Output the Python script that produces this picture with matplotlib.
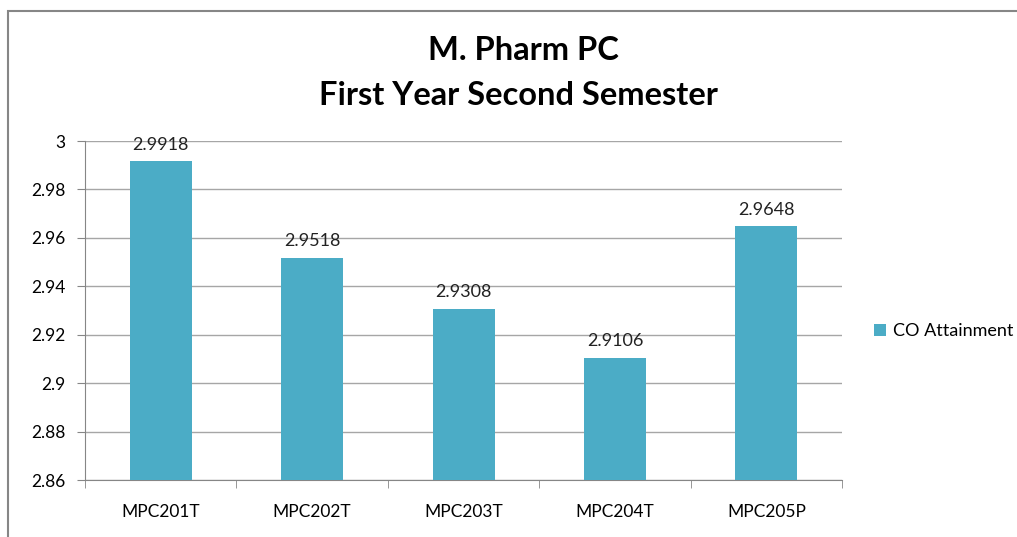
"""
Bar chart: M. Pharm PC, first year second semester CO attainment.
"""

import matplotlib.pyplot as plt
from matplotlib.patches import Rectangle

# ---------------------------------------------------------
# Data
# ---------------------------------------------------------
courses = ["MPC201T", "MPC202T", "MPC203T", "MPC204T", "MPC205P"]
co_attainment = [2.9918, 2.9518, 2.9308, 2.9106, 2.9648]
y_ticks = [2.86, 2.88, 2.90, 2.92, 2.94, 2.96, 2.98, 3.00]
y_tick_labels = ["2.86", "2.88", "2.9", "2.92", "2.94", "2.96", "2.98", "3"]

BAR_COLOR = "#4BACC6"
GRID_COLOR = "#A6A6A6"

plt.rcParams["font.family"] = ["Lato", "DejaVu Sans"]

fig = plt.figure(figsize=(10.17, 5.37), dpi=100)
ax = fig.add_axes([0.0836, 0.106, 0.7444, 0.6314])

x = list(range(len(courses)))
bars = ax.bar(x, co_attainment, width=0.41, color=BAR_COLOR, zorder=3,
              label="CO Attainment")

for xi, v in zip(x, co_attainment):
    ax.annotate(f"{v:.4f}", (xi, v), xytext=(0, 6), textcoords="offset points",
                ha="center", va="bottom", fontsize=13, color="#222222")

ax.set_xlim(-0.5, len(courses) - 0.5)
ax.set_ylim(2.86, 3.0)
ax.set_yticks(y_ticks)
ax.set_yticklabels(y_tick_labels, fontsize=12.5)
ax.set_xticks(x)
ax.set_xticklabels(courses, fontsize=12.5)
ax.set_xticks([i - 0.5 for i in range(len(courses) + 1)], minor=True)
ax.tick_params(axis="x", which="major", length=0, pad=17)
ax.tick_params(axis="x", which="minor", length=6, color="#868686")
ax.tick_params(axis="y", length=6, color="#868686", pad=8)

ax.yaxis.grid(True, color=GRID_COLOR, linewidth=1)
ax.set_axisbelow(True)
for side in ["top", "right"]:
    ax.spines[side].set_visible(False)
ax.spines["left"].set_color("#868686")
ax.spines["bottom"].set_color("#868686")

fig.text(0.515, 0.906, "M. Pharm PC", ha="center", va="center",
         fontsize=23.5, fontweight="bold")
fig.text(0.51, 0.822, "First Year Second Semester", ha="center", va="center",
         fontsize=23.5, fontweight="bold")

fig.legend(handles=[bars], labels=["CO Attainment"], loc="center left",
           bbox_to_anchor=(0.843, 0.383), frameon=False, fontsize=13,
           handlelength=0.7, handleheight=0.7, handletextpad=0.4)

# chart-area border (left and top visible, rest cropped)
fig.patches.append(Rectangle((8 / 1017, -0.1), 1.2, 1 - 11 / 537 + 0.1,
                             transform=fig.transFigure, fill=False,
                             edgecolor="#868686", linewidth=1.5))

fig.savefig("out.png", dpi=100)
